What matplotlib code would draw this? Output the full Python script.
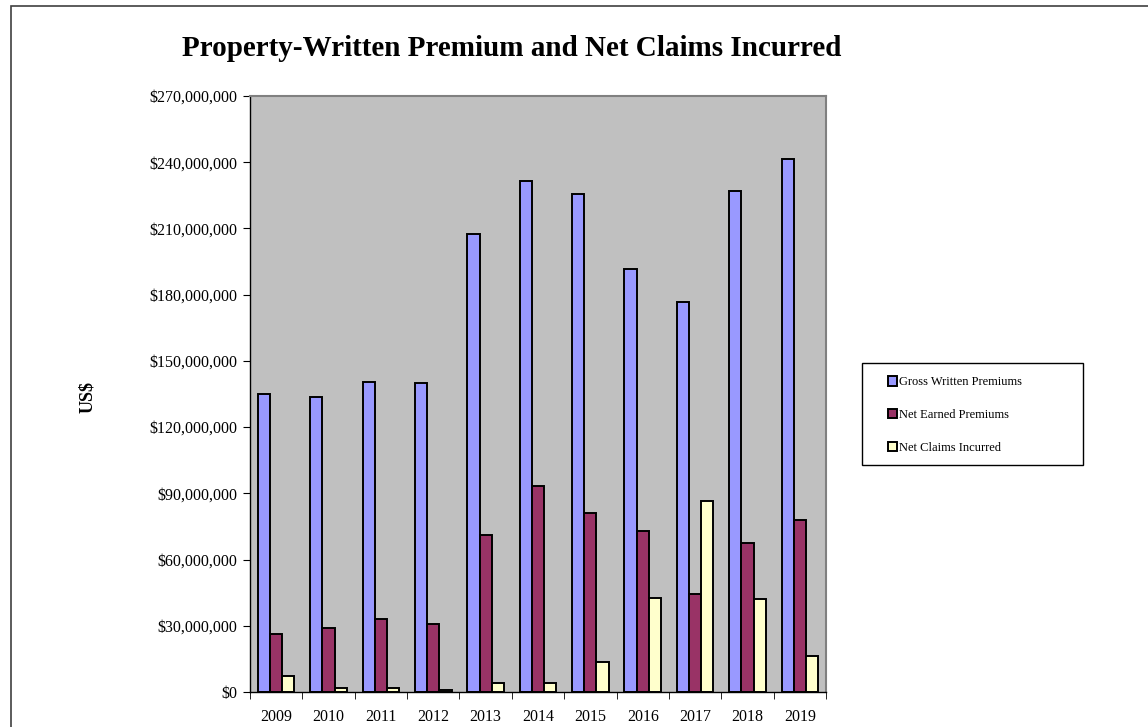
import matplotlib.pyplot as plt
import numpy as np
from matplotlib.patches import Rectangle
from matplotlib.ticker import FuncFormatter

years = ["2009", "2010", "2011", "2012", "2013", "2014",
         "2015", "2016", "2017", "2018", "2019"]

# values in US$ millions
gross_written = [135.2, 133.7, 140.4, 140.2, 207.7, 231.4,
                 225.4, 191.8, 176.7, 227.0, 241.4]
net_earned = [26.2, 29.2, 33.1, 30.7, 71.2, 93.2,
              81.1, 72.8, 44.5, 67.3, 78.1]
net_claims = [7.3, 1.7, 1.7, 0.9, 3.9, 3.9,
              13.8, 42.8, 86.4, 42.1, 16.2]

series_names = ["Gross Written Premiums", "Net Earned Premiums", "Net Claims Incurred"]
colors = ["#9999FF", "#993366", "#FFFFCC"]

plt.rcParams["font.family"] = ["Liberation Serif", "DejaVu Serif"]

W, H = 1148, 727
fig = plt.figure(figsize=(W / 100, H / 100), dpi=100)
ax = fig.add_axes([250 / W, 35 / H, 576 / W, 596 / H])
ax.set_facecolor("#C0C0C0")

# outer chart frame
fig.patches.append(Rectangle((11 / W, -0.05), 1.2, 1.05 - 6 / H,
                             transform=fig.transFigure, fill=False,
                             edgecolor="#404040", linewidth=1.2))
# legend frame, drawn by hand so the padding matches
fig.patches.append(Rectangle((862 / W, 1 - 465 / H), 221 / W, 102 / H,
                             transform=fig.transFigure, facecolor="white",
                             edgecolor="black", linewidth=1.0))

x = np.arange(len(years))
bw = 0.233
for i, (vals, name, c) in enumerate(zip([gross_written, net_earned, net_claims],
                                        series_names, colors)):
    ax.bar(x + (i - 1) * bw, np.array(vals) * 1e6, bw, color=c,
           edgecolor="black", linewidth=1.4, label=name)

ax.set_xlim(-0.5, len(years) - 0.5)
ax.set_ylim(0, 270e6)
ax.set_yticks(np.arange(0, 270e6 + 1, 30e6))
ax.yaxis.set_major_formatter(FuncFormatter(lambda v, p: f"${v:,.0f}"))
ax.set_xticks(x)
ax.set_xticklabels(years)
ax.set_xticks(np.arange(-0.5, len(years), 1), minor=True)
ax.tick_params(axis="x", which="major", length=0, labelsize=11.5, pad=12)
ax.tick_params(axis="x", which="minor", length=5, direction="out")
ax.tick_params(axis="y", length=5, direction="out", labelsize=11.5, pad=4)

for side in ["top", "right"]:
    ax.spines[side].set_color("#808080")
    ax.spines[side].set_linewidth(1.5)
for side in ["left", "bottom"]:
    ax.spines[side].set_color("black")
    ax.spines[side].set_linewidth(1.0)

ax.set_ylabel("US$", fontsize=13, fontweight="bold")
ax.yaxis.set_label_coords(-0.268, 0.495)

fig.text(512 / W, 1 - 48 / H, "Property-Written Premium and Net Claims Incurred",
         ha="center", va="center", fontsize=21, fontweight="bold")

leg = fig.legend(loc="center left", bbox_to_anchor=(888 / W, 1 - 415 / H),
                 bbox_transform=fig.transFigure, fontsize=9, frameon=False,
                 labelspacing=1.65, handlelength=0.75, handleheight=0.75,
                 handletextpad=0.15, borderpad=0, borderaxespad=0)

fig.savefig("out.png", dpi=100)
